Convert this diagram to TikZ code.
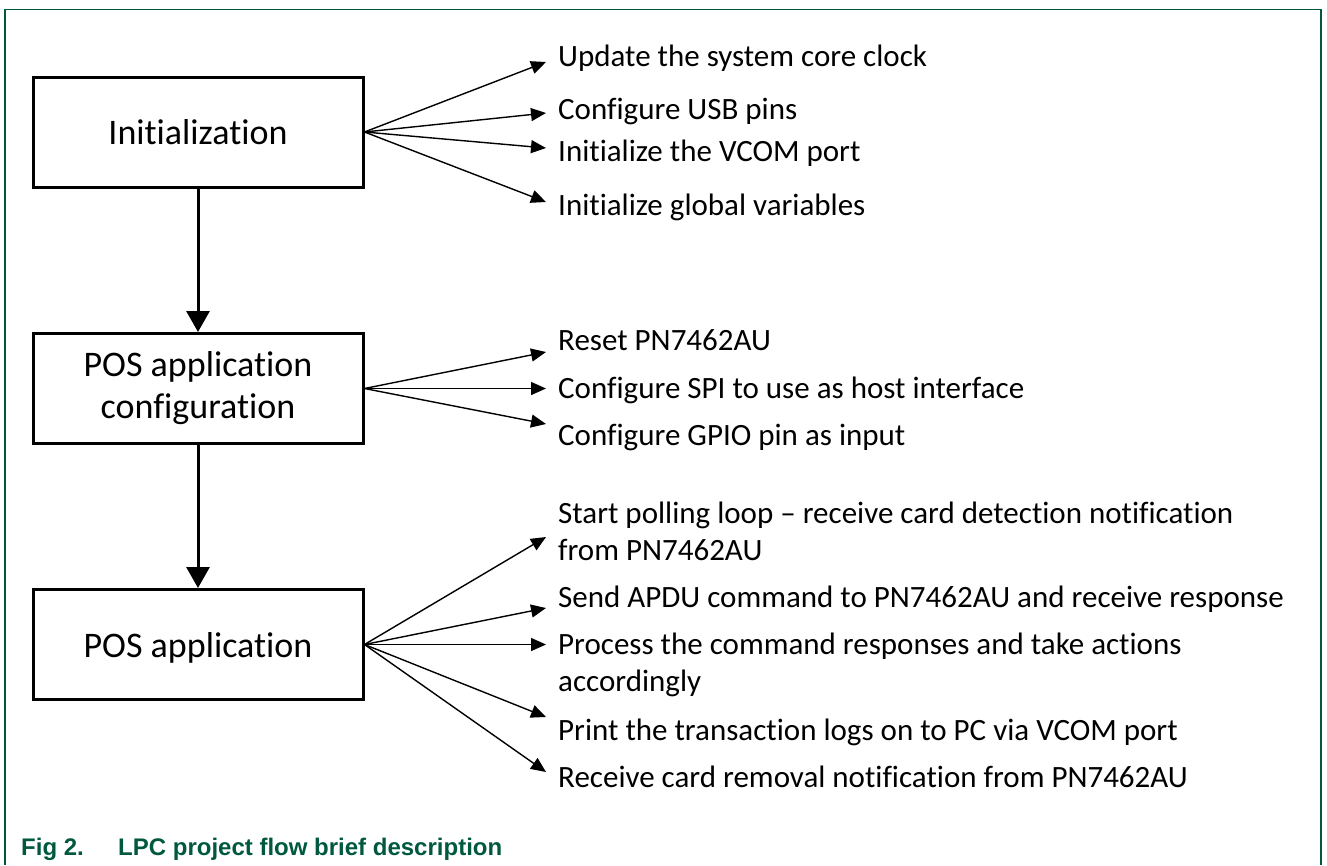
\documentclass[tikz,border=0pt]{standalone}
\usepackage{fontspec}
\setmainfont{Carlito}[Ligatures={TeX,NoCommon}]
\newfontfamily\capfont{Liberation Sans}
\usetikzlibrary{arrows.meta}
\definecolor{nxpgreen}{HTML}{00593E}
\begin{document}
\begin{tikzpicture}[x=1pt,y=-1pt,
  box/.style={draw,line width=3pt,minimum width=330pt,minimum height=110pt,inner sep=0pt,
    font=\fontsize{36}{42}\selectfont,align=center},
  item/.style={anchor=base west,inner sep=0pt,font=\fontsize{31}{37}\selectfont,align=left},
  flow/.style={line width=3pt,-{Triangle[length=21pt,width=23pt]}},
  fan/.style={line width=1.4pt,-{Triangle[length=15pt,width=13pt]}},
  frameline/.style={draw=nxpgreen,line width=1.5pt},
  captext/.style={anchor=base west,inner sep=0pt,text=nxpgreen,font=\capfont\bfseries\fontsize{24}{28}\selectfont}]
\useasboundingbox (0,0) rectangle (1327,865);
\draw[frameline] (5,865) -- (5,9.5) -- (1321,9.5) -- (1321,865);

% boxes
\node[box] (init) at (198,132) {Initialization};
\node[box] (cfg) at (198,388.5) {POS application\\configuration};
\node[box,text depth=0pt] (app) at (198,644.5) {POS application};

\draw[flow] (init.south) -- (cfg.north);
\draw[flow] (cfg.south) -- (app.north);

% initialization items
\node[item] (i1) at (558,66) {Update the system core clock};
\node[item] (i2) at (558,119) {Configure USB pins};
\node[item] (i3) at (558,161) {Initialize the VCOM port};
\node[item] (i4) at (558,215) {Initialize global variables};
\coordinate (ti1) at (546,62);
\coordinate (ti2) at (546,113);
\coordinate (ti3) at (546,148);
\coordinate (ti4) at (546,202);
\foreach \t in {ti1,ti2,ti3,ti4} \draw[fan] (init.east) -- (\t);

% configuration items
\node[item] (c1) at (558,350) {Reset PN7462AU};
\node[item] (c2) at (558,398) {Configure SPI to use as host interface};
\node[item] (c3) at (558,445) {Configure GPIO pin as input};
\coordinate (tc1) at (546,352);
\coordinate (tc2) at (546,388.5);
\coordinate (tc3) at (546,424);
\foreach \t in {tc1,tc2,tc3} \draw[fan] (cfg.east) -- (\t);

% application items (base anchor = last line)
\node[item] (a1) at (558,560) {Start polling loop – receive card detection notification\\from PN7462AU};
\node[item] (a2) at (558,607) {Send APDU command to PN7462AU and receive response};
\node[item] (a3) at (558,691) {Process the command responses and take actions\\accordingly};
\node[item] (a4) at (558,740) {Print the transaction logs on to PC via VCOM port};
\node[item] (a5) at (558,787) {Receive card removal notification from PN7462AU};
\coordinate (ta1) at (546,537);
\coordinate (ta2) at (546,608);
\coordinate (ta3) at (546,644.5);
\coordinate (ta4) at (546,717);
\coordinate (ta5) at (546,772);
\foreach \t in {ta1,ta2,ta3,ta4,ta5} \draw[fan] (app.east) -- (\t);

% caption
\node[captext] (cap) at (21,855) {\makebox[97pt][l]{Fig 2.}LPC project flow brief description};
\end{tikzpicture}
\end{document}
